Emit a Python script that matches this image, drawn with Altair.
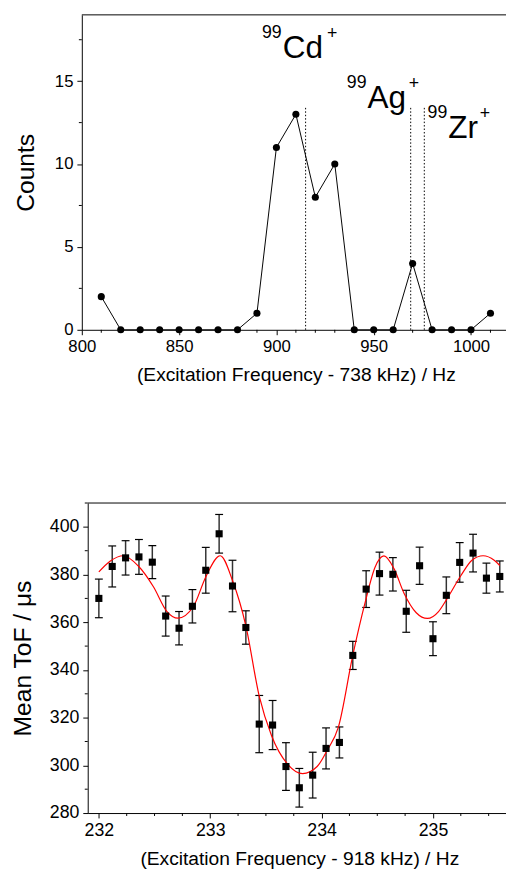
import altair as alt
import pandas as pd

FONT = "Liberation Sans"

# ---------------- top panel data ----------------
freq_top = [810, 820, 830, 840, 850, 860, 870, 880, 890, 900, 910,
            920, 930, 940, 950, 960, 970, 980, 990, 1000, 1010]
counts = [2, 0, 0, 0, 0, 0, 0, 0, 1, 11, 13, 8, 10, 0, 0, 0, 4, 0, 0, 0, 1]

ion_line_x = [915, 969, 976]
ion_line_top = [13.5, 13.5, 13.5]

ion_mass = ["99", "99", "99"]
ion_symbol = ["Cd", "Ag", "Zr"]
ion_x = [903.2, 946.8, 988.3]
ion_y = [16.4, 13.4, 11.6]
ion_plus_x = [926.0, 968.0, 1004.5]

top_x_domain = [800, 1020]
top_y_domain = [0, 19]
top_x_major = [800, 850, 900, 950, 1000]
top_x_minor = [810, 820, 830, 840, 860, 870, 880, 890, 910, 920, 930, 940,
               960, 970, 980, 990, 1010]
top_y_major = [0, 5, 10, 15]
top_y_minor = [2.5, 7.5, 12.5, 17.5]

# ---------------- bottom panel data ----------------
freq_bot = [232.00, 232.12, 232.24, 232.36, 232.48, 232.60, 232.72, 232.84,
            232.96, 233.08, 233.20, 233.32, 233.44, 233.56, 233.68, 233.80,
            233.92, 234.04, 234.16, 234.28, 234.40, 234.52, 234.64, 234.76,
            234.88, 235.00, 235.12, 235.24, 235.36, 235.48, 235.60]
tof = [370.0, 383.4, 387.0, 387.4, 385.2, 362.6, 357.5, 366.7, 381.8, 397.1,
       375.2, 357.8, 317.3, 316.9, 299.5, 290.6, 295.9, 307.1, 309.6, 346.1,
       373.9, 380.4, 380.1, 364.6, 383.7, 353.1, 371.3, 385.1, 389.0, 378.5,
       379.2]
tof_err = [8.1, 8.6, 7.2, 7.3, 6.9, 8.4, 7.0, 7.0, 9.6, 8.1, 10.8, 7.0, 12.0,
           10.3, 10.0, 8.1, 9.6, 8.6, 6.5, 5.9, 7.7, 9.0, 7.0, 8.8, 7.8, 7.1,
           7.7, 8.3, 7.9, 6.3, 6.5]

fit_x = [232.00, 232.10, 232.22, 232.35, 232.49, 232.61, 232.71, 232.85,
         232.96, 233.09, 233.20, 233.32, 233.44, 233.55, 233.70, 233.83,
         233.96, 234.05, 234.15, 234.28, 234.39, 234.48, 234.56, 234.65,
         234.74, 234.85, 234.95, 235.05, 235.12, 235.25, 235.35, 235.45,
         235.55, 235.60]
fit_y = [381.1, 385.6, 387.9, 383.8, 374.9, 364.6, 361.7, 366.7,
         379.0, 387.9, 377.5, 358.5, 329.0, 312.5, 300.2, 296.5,
         299.5, 306.3, 315.9, 346.1, 368.1, 383.1, 387.8, 382.5,
         372.2, 364.0, 361.6, 364.5, 369.4, 379.5, 386.0, 387.9,
         386.0, 383.8]

bot_x_domain = [231.9, 235.7]
bot_y_domain = [280, 410]
bot_x_major = [232, 233, 234, 235]
bot_x_minor = [232.25, 232.5, 232.75, 233.25, 233.5, 233.75, 234.25, 234.5,
               234.75, 235.25, 235.5]
bot_y_major = [280, 300, 320, 340, 360, 380, 400]
bot_y_minor = [290, 310, 330, 350, 370, 390, 410]

TOP_W, TOP_H = 429, 320
BOT_W, BOT_H = 430, 315
TOP_SHIFT = 6  # top panel's frame starts 6 px left of the bottom panel's

# ---------------- tables ----------------
df_top = pd.DataFrame({"f": freq_top, "c": counts})
df_lines = pd.DataFrame({"f": ion_line_x, "c": [0] * len(ion_line_x), "c2": ion_line_top})
df_ions = pd.DataFrame({"f": ion_x, "c": ion_y, "fp": ion_plus_x,
                        "mass": ion_mass, "sym": ion_symbol,
                        "plus": ["+"] * len(ion_symbol)})
df_top_frame = pd.DataFrame({"f": [top_x_domain[0]], "f2": [top_x_domain[1]],
                             "c": [top_y_domain[1]]})
df_top_xminor = pd.DataFrame({"f": top_x_minor})
df_top_yminor = pd.DataFrame({"c": top_y_minor})
df_bot = pd.DataFrame({"f": freq_bot, "t": tof,
                       "lo": [a - b for a, b in zip(tof, tof_err)],
                       "hi": [a + b for a, b in zip(tof, tof_err)]})
df_fit = pd.DataFrame({"f": fit_x, "t": fit_y})
df_bot_frame = pd.DataFrame({"f": [bot_x_domain[0]], "f2": [bot_x_domain[1]],
                             "t": [bot_y_domain[1]]})
df_bot_xminor = pd.DataFrame({"f": bot_x_minor})
df_bot_yminor = pd.DataFrame({"t": bot_y_minor})


def mk_axis(values, label_size, title=None, title_size=20, **kw):
    return alt.Axis(
        values=values, format="d", tickSize=5,
        labelFont=FONT, labelFontSize=label_size, labelColor="black",
        labelOverlap=False, labelFlush=False,
        tickColor="black", tickWidth=1, domainColor="black", domainWidth=1,
        grid=False, title=title, titleFont=FONT, titleFontSize=title_size,
        titleFontWeight="normal", titleColor="black", **kw)


# ---------------- top chart ----------------
xs_top = alt.Scale(domain=top_x_domain, range=[-TOP_SHIFT, TOP_W], nice=False, zero=False)
ys_top = alt.Scale(domain=top_y_domain, nice=False, zero=False)

x_axis_top = mk_axis(top_x_major, 17, title="(Excitation Frequency - 738 kHz) / Hz",
                     title_size=19.5, labelPadding=4, titlePadding=12)
y_axis_top = mk_axis(top_y_major, 17, title="Counts", title_size=25, offset=TOP_SHIFT,
                     labelPadding=4, titlePadding=16)

XT = alt.X("f:Q", scale=xs_top, axis=x_axis_top)
YT = alt.Y("c:Q", scale=ys_top, axis=y_axis_top)

frame_top = alt.Chart(df_top_frame).mark_rule(color="black", strokeWidth=1).encode(
    x=XT, x2="f2:Q", y=YT)
xminor_top = alt.Chart(df_top_xminor).mark_rule(color="black", strokeWidth=1).encode(
    x=XT, y=alt.value(TOP_H), y2=alt.value(TOP_H + 3))
yminor_top = alt.Chart(df_top_yminor).mark_rule(color="black", strokeWidth=1).encode(
    y=YT, x=alt.value(-TOP_SHIFT), x2=alt.value(-TOP_SHIFT - 3))
rules = alt.Chart(df_lines).mark_rule(color="black", strokeWidth=1, strokeDash=[1.5, 2]).encode(
    x=XT, y=YT, y2="c2:Q")
line_top = alt.Chart(df_top).mark_line(color="black", strokeWidth=1).encode(x=XT, y=YT)
pts_top = alt.Chart(df_top).mark_circle(size=52, color="black", opacity=1).encode(x=XT, y=YT)
txt_mass = alt.Chart(df_ions).mark_text(align="right", baseline="alphabetic", font=FONT,
                                        fontSize=18, dx=-1, dy=-20, color="black").encode(
    x=XT, y=YT, text="mass:N")
txt_sym = alt.Chart(df_ions).mark_text(align="left", baseline="alphabetic", font=FONT,
                                       fontSize=32, color="black").encode(
    x=XT, y=YT, text="sym:N")
txt_plus = alt.Chart(df_ions).mark_text(align="left", baseline="alphabetic", font=FONT,
                                        fontSize=18, dy=-19, color="black").encode(
    x=alt.X("fp:Q", scale=xs_top, axis=x_axis_top), y=YT, text="plus:N")

top = alt.layer(frame_top, xminor_top, yminor_top, rules, line_top, pts_top,
                txt_mass, txt_sym, txt_plus).properties(width=TOP_W, height=TOP_H)

# ---------------- bottom chart ----------------
xs_bot = alt.Scale(domain=bot_x_domain, nice=False, zero=False)
ys_bot = alt.Scale(domain=bot_y_domain, nice=False, zero=False)

x_axis_bot = mk_axis(bot_x_major, 18, title="(Excitation Frequency - 918 kHz) / Hz",
                     title_size=19.5, labelPadding=4, titlePadding=10)
y_axis_bot = mk_axis(bot_y_major, 18, title="Mean ToF / \u03bcs", title_size=25,
                     labelPadding=4, titlePadding=14)

XB = alt.X("f:Q", scale=xs_bot, axis=x_axis_bot)


def YB(field):
    return alt.Y(f"{field}:Q", scale=ys_bot, axis=y_axis_bot)


frame_bot = alt.Chart(df_bot_frame).mark_rule(color="black", strokeWidth=1).encode(
    x=XB, x2="f2:Q", y=YB("t"))
xminor_bot = alt.Chart(df_bot_xminor).mark_rule(color="black", strokeWidth=1).encode(
    x=XB, y=alt.value(BOT_H), y2=alt.value(BOT_H + 3))
yminor_bot = alt.Chart(df_bot_yminor).mark_rule(color="black", strokeWidth=1).encode(
    y=YB("t"), x=alt.value(0), x2=alt.value(-3))
err_rules = alt.Chart(df_bot).mark_rule(color="#333333", strokeWidth=1.5).encode(
    x=XB, y=YB("lo"), y2="hi:Q")
cap_lo = alt.Chart(df_bot).mark_tick(orient="horizontal", size=8, thickness=1.2,
                                     color="black", opacity=1).encode(x=XB, y=YB("lo"))
cap_hi = alt.Chart(df_bot).mark_tick(orient="horizontal", size=8, thickness=1.2,
                                     color="black", opacity=1).encode(x=XB, y=YB("hi"))
fit = alt.Chart(df_fit).mark_line(color="#ff0000", strokeWidth=1.2,
                                  interpolate="monotone").encode(x=XB, y=YB("t"))
squares = alt.Chart(df_bot).mark_square(size=52, color="black", opacity=1).encode(
    x=XB, y=YB("t"))

bottom = alt.layer(frame_bot, xminor_bot, yminor_bot, err_rules, cap_lo, cap_hi, fit,
                   squares).properties(width=BOT_W, height=BOT_H)

# fixed-size canvas: 506 px wide, plot origin 81 px from the canvas's left edge
chart = alt.vconcat(top, bottom, spacing=119).properties(
    autosize=alt.AutoSizeParams(type="none"),
    padding={"left": 81, "top": 0, "right": 425, "bottom": 868},
).configure_view(stroke=None)

chart.save("out.html", embed_options={"renderer": "svg", "actions": False})
